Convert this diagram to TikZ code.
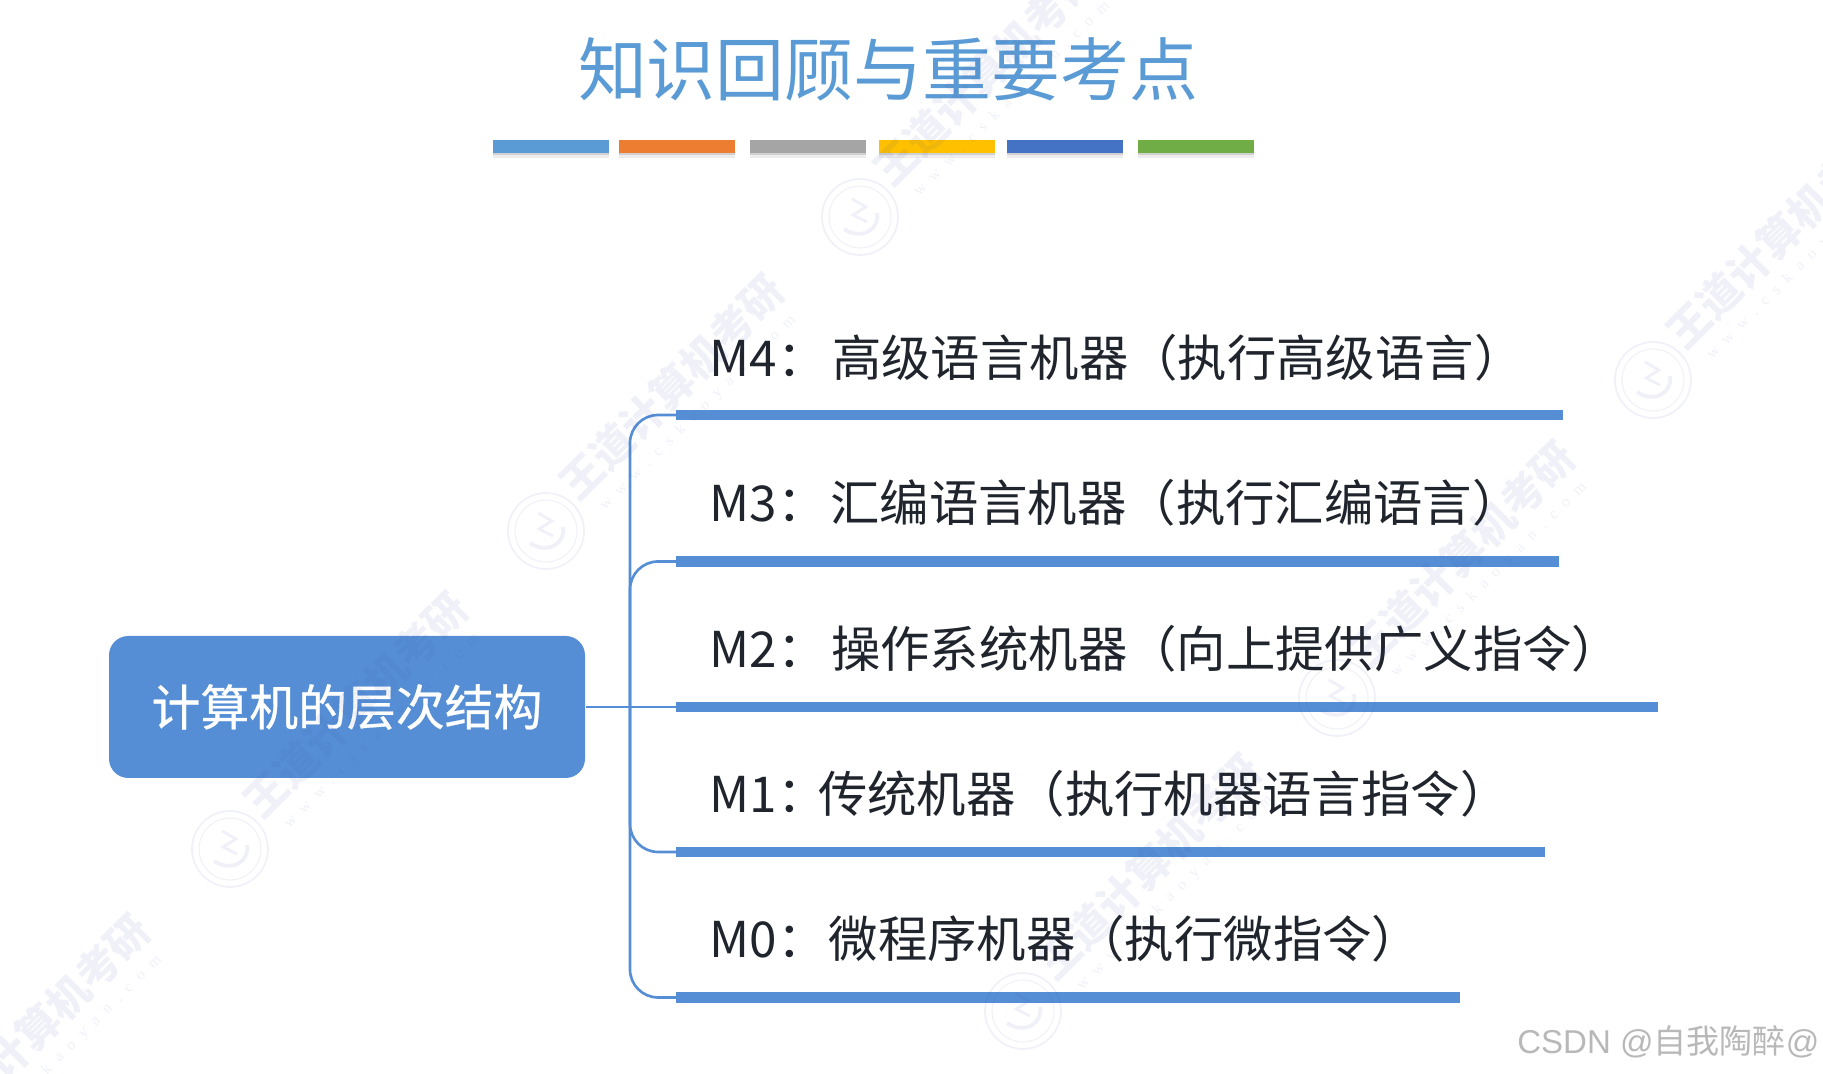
\documentclass[tikz,border=0pt]{standalone}
\usepackage{fontspec}
\setmainfont{Noto Sans CJK SC}
\newfontfamily\csdnfont{Liberation Sans}
\newfontfamily\rootfont[FakeBold=0.6]{Noto Sans CJK SC}
\newfontfamily\wmfont[LetterSpace=60]{Liberation Serif}
\definecolor{mapblue}{HTML}{558ED5}
\definecolor{titleblue}{HTML}{5B9BD5}
\definecolor{inkdark}{HTML}{20242C}
\definecolor{wmblue}{HTML}{3F51A0}
\definecolor{chiporange}{HTML}{ED7D31}
\definecolor{chipgray}{HTML}{A5A5A5}
\definecolor{chipyellow}{HTML}{FFC000}
\definecolor{chipblue}{HTML}{4472C4}
\definecolor{chipgreen}{HTML}{70AD47}
\tikzset{
  colorbar/.style={
    preaction={fill=black!7,transform canvas={yshift=-1.4pt}},
    preaction={fill=black!18,transform canvas={yshift=-0.7pt}}},
  branch/.style={draw=mapblue,line width=0.75pt,rounded corners=8pt},
  stem/.style={draw=mapblue,line width=0.75pt},
  rule/.style={draw=mapblue,line width=2.9pt},
  level/.style={anchor=west,text=inkdark,font=\fontsize{14.05}{16}\selectfont,inner sep=0pt},
  wmark/.pic={
    \node[rotate=45,text=wmblue,font=\fontsize{12}{14}\selectfont\bfseries,inner sep=0pt] (-name) at (1.26,1.44) {王道计算机考研};
    \node[rotate=45,text=wmblue,font=\fontsize{4.5}{5}\wmfont,inner sep=0pt] (-site) at (1.52,1.18) {www.cskaoyan.com};
    \draw[wmblue,line width=0.5pt] (0,0) circle (0.38);
    \draw[wmblue,line width=0.3pt] (0,0) circle (0.31);
    \draw[wmblue,line width=1.1pt] (-0.16,-0.12) .. controls (0.02,-0.24) and (0.2,-0.12) .. (0.17,0.04);
    \draw[wmblue,line width=0.8pt] (-0.08,0.18) -- (0.06,0.1) -- (-0.07,0.02) -- (0.07,-0.05);
  }
}
\begin{document}
\begin{tikzpicture}
  \useasboundingbox (0,0) rectangle (18.23,10.74);

  % Title
  \node[text=titleblue,font=\fontsize{19.6}{22}\selectfont,inner sep=0pt] (title) at (8.88,10.05) {知识回顾与重要考点};

  % Colour bars under the title
  \fill[titleblue,colorbar] (4.93,9.34) rectangle (6.09,9.21);
  \fill[chiporange,colorbar] (6.19,9.34) rectangle (7.35,9.21);
  \fill[chipgray,colorbar] (7.50,9.34) rectangle (8.66,9.21);
  \fill[chipyellow,colorbar] (8.79,9.34) rectangle (9.95,9.21);
  \fill[chipblue,colorbar] (10.07,9.34) rectangle (11.23,9.21);
  \fill[chipgreen,colorbar] (11.38,9.34) rectangle (12.54,9.21);

  % Root box
  \node[fill=mapblue,rounded corners=5.5pt,minimum width=4.76cm,minimum height=1.42cm,inner sep=0pt,
    text=white,font=\fontsize{13.9}{16}\rootfont] (root) at (3.47,3.67) {计算机的层次结构};

  % Branch ends
  \coordinate (b4s) at (6.76,6.59);
  \coordinate (b4e) at (15.63,6.59);
  \coordinate (b3s) at (6.76,5.125);
  \coordinate (b3e) at (15.59,5.125);
  \coordinate (b2s) at (6.76,3.67);
  \coordinate (b2e) at (16.58,3.67);
  \coordinate (b1s) at (6.76,2.22);
  \coordinate (b1e) at (15.45,2.22);
  \coordinate (b0s) at (6.76,0.765);
  \coordinate (b0e) at (14.60,0.765);
  \coordinate (trunk) at (6.30,3.67);

  % Connectors
  \draw[stem] (root.east) -- (b2s);
  \draw[branch] (b4s) -| (trunk);
  \draw[branch] (b3s) -| (trunk);
  \draw[branch] (b1s) -| (trunk);
  \draw[branch] (b0s) -| (trunk);

  % Thick rules
  \draw[rule] (b4s) -- (b4e);
  \draw[rule] (b3s) -- (b3e);
  \draw[rule] (b2s) -- (b2e);
  \draw[rule] (b1s) -- (b1e);
  \draw[rule] (b0s) -- (b0e);

  % Levels
  \node[level] (m4) at (7.09,7.16) {M4：\hspace{1.6pt}高级语言机器（执行高级语言）};
  \node[level] (m3) at (7.09,5.71) {M3：\hspace{1.1pt}汇编语言机器（执行汇编语言）};
  \node[level] (m2) at (7.09,4.25) {M2：\hspace{1.3pt}操作系统机器（向上提供广义指令）};
  \node[level] (m1) at (7.09,2.80) {M1：\hspace{-2.4pt}传统机器（执行机器语言指令）};
  \node[level] (m0) at (7.09,1.35) {M0：\hspace{0.6pt}微程序机器（执行微指令）};

  % Corner mark
  \node[anchor=east,text=black!28,font=\fontsize{9.4}{11}\selectfont,inner sep=0pt] (csdn) at (18.20,0.32) {{\csdnfont CSDN @}自我陶醉{\csdnfont @}};

  % Watermarks
  \begin{scope}[opacity=0.08]
    \pic (wma) at (5.46,5.43) {wmark};
    \pic (wmb) at (8.60,8.57) {wmark};
    \pic (wmc) at (16.53,6.94) {wmark};
    \pic (wmd) at (13.37,3.76) {wmark};
    \pic (wme) at (2.30,2.25) {wmark};
    \pic (wmf) at (10.23,0.63) {wmark};
    \pic (wmg) at (-0.88,-0.97) {wmark};
  \end{scope}
\end{tikzpicture}
\end{document}
